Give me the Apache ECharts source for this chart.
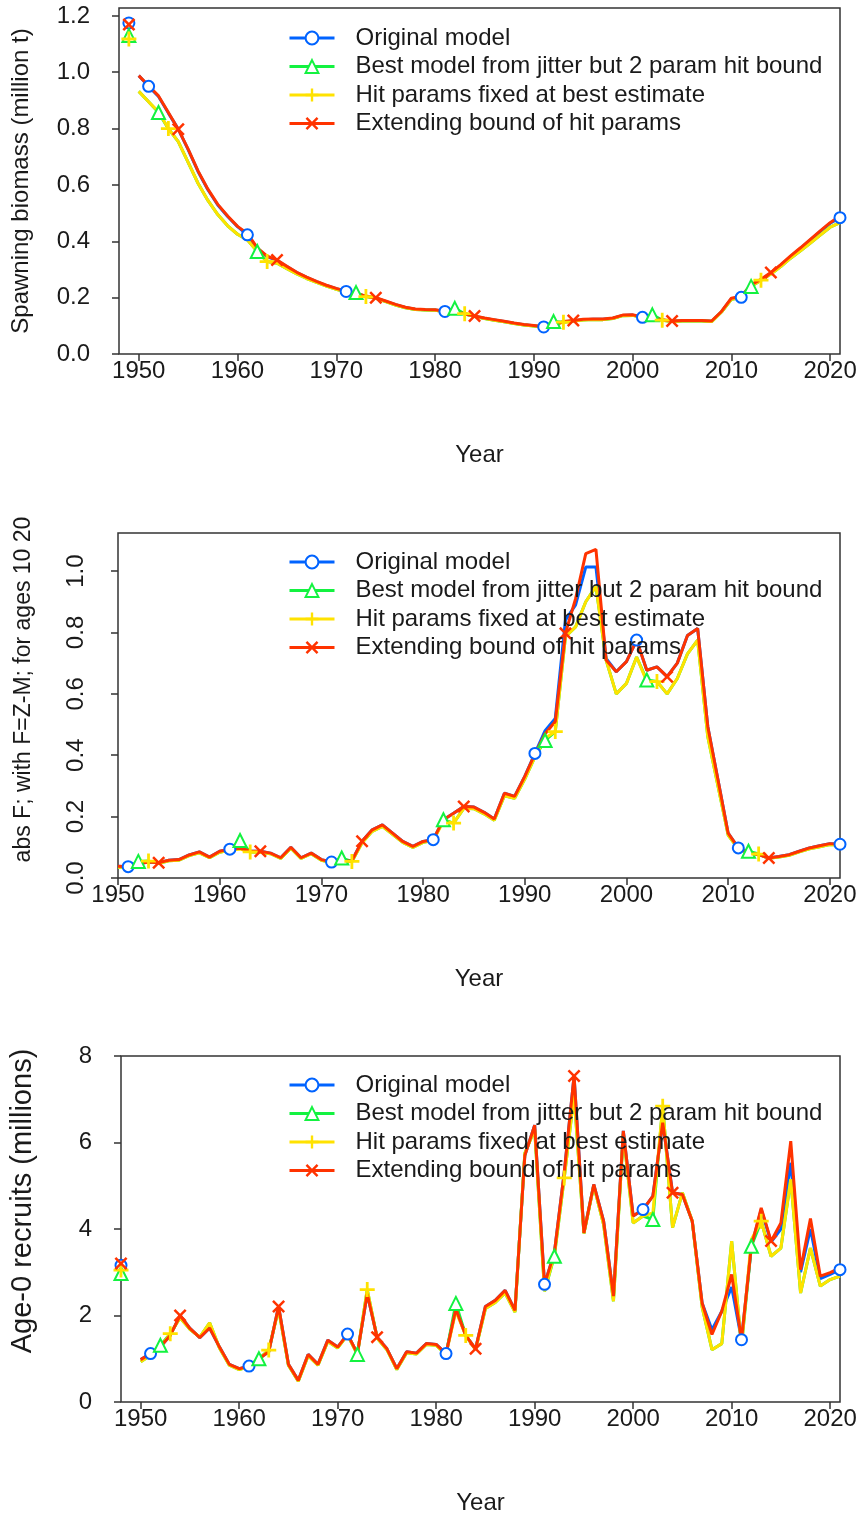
<!DOCTYPE html>
<html>
<head>
<meta charset="utf-8">
<title>Model comparison: spawning biomass, F and recruits</title>
<script src="https://cdn.jsdelivr.net/npm/echarts@6/dist/echarts.min.js"></script>
<style>
  html, body { margin: 0; padding: 0; background: #ffffff; }
  #chart { width: 861px; height: 1517px; }
</style>
</head>
<body>
<div id="chart"></div>
<script>
// ---------------- data ----------------
const modelNames = [
  'Original model',
  'Best model from jitter but 2 param hit bound',
  'Hit params fixed at best estimate',
  'Extending bound of hit params'
];
const years = [];
for (let y = 1950; y <= 2021; y++) years.push(y);

const xTickYears = [1950, 1960, 1970, 1980, 1990, 2000, 2010, 2020];

// Spawning biomass (million t), 1950-2021
const ssbVirginYear = 1949;
const ssbVirgin = [1.175, 1.13, 1.118, 1.169];
const ssbOriginal = [0.988,0.950,0.914,0.855,0.798,0.725,0.648,0.583,0.529,0.488,0.452,0.423,0.375,0.345,0.333,0.310,0.289,0.272,0.257,0.243,0.232,0.222,0.213,0.205,0.199,0.187,0.175,0.165,0.159,0.157,0.156,0.151,0.148,0.142,0.134,0.127,0.121,0.115,0.109,0.104,0.100,0.096,0.103,0.114,0.118,0.122,0.123,0.123,0.127,0.137,0.138,0.130,0.126,0.121,0.116,0.118,0.118,0.118,0.116,0.150,0.196,0.201,0.244,0.263,0.287,0.315,0.346,0.375,0.405,0.435,0.464,0.484];
const ssbJitter   = [0.932,0.895,0.857,0.800,0.754,0.680,0.606,0.545,0.495,0.455,0.425,0.405,0.364,0.328,0.322,0.303,0.284,0.268,0.254,0.241,0.230,0.220,0.218,0.204,0.198,0.186,0.174,0.164,0.158,0.156,0.155,0.150,0.162,0.143,0.133,0.126,0.120,0.114,0.108,0.103,0.099,0.096,0.115,0.113,0.117,0.121,0.122,0.122,0.126,0.136,0.137,0.129,0.139,0.120,0.115,0.117,0.117,0.117,0.115,0.149,0.194,0.200,0.240,0.262,0.284,0.310,0.340,0.366,0.394,0.422,0.450,0.466];
const ssbFixed    = [0.932,0.895,0.860,0.800,0.754,0.680,0.606,0.545,0.495,0.455,0.425,0.405,0.365,0.328,0.322,0.303,0.284,0.268,0.254,0.241,0.230,0.220,0.212,0.204,0.198,0.186,0.174,0.164,0.158,0.156,0.155,0.150,0.146,0.143,0.133,0.126,0.120,0.114,0.108,0.103,0.099,0.096,0.102,0.113,0.117,0.121,0.122,0.122,0.126,0.136,0.137,0.129,0.125,0.120,0.115,0.117,0.117,0.117,0.115,0.149,0.194,0.200,0.240,0.262,0.284,0.310,0.340,0.366,0.394,0.422,0.450,0.466];
const ssbExtended = [0.988,0.952,0.916,0.857,0.798,0.727,0.650,0.585,0.531,0.490,0.453,0.428,0.377,0.347,0.334,0.311,0.290,0.273,0.258,0.244,0.233,0.223,0.214,0.206,0.200,0.188,0.176,0.166,0.160,0.158,0.157,0.152,0.149,0.143,0.135,0.128,0.122,0.116,0.110,0.105,0.101,0.097,0.104,0.115,0.119,0.123,0.124,0.124,0.128,0.138,0.139,0.131,0.127,0.122,0.117,0.119,0.119,0.119,0.117,0.151,0.198,0.205,0.246,0.265,0.289,0.317,0.348,0.377,0.407,0.437,0.466,0.490];

// Fishing mortality (abs F, ages 10-20), 1950-2021
const fOriginal = [0.038,0.037,0.046,0.052,0.050,0.058,0.060,0.075,0.085,0.068,0.087,0.094,0.097,0.088,0.087,0.081,0.066,0.100,0.066,0.081,0.060,0.052,0.054,0.056,0.120,0.157,0.173,0.146,0.119,0.103,0.119,0.125,0.190,0.211,0.233,0.231,0.214,0.192,0.276,0.266,0.331,0.406,0.480,0.520,0.840,0.890,1.013,1.013,0.715,0.672,0.705,0.775,0.677,0.688,0.656,0.700,0.790,0.813,0.493,0.320,0.146,0.098,0.082,0.076,0.065,0.070,0.076,0.087,0.098,0.105,0.112,0.110];
const fJitter   = [0.035,0.035,0.054,0.055,0.048,0.056,0.058,0.073,0.082,0.066,0.084,0.091,0.122,0.085,0.084,0.079,0.064,0.097,0.064,0.079,0.058,0.050,0.065,0.054,0.115,0.152,0.168,0.142,0.116,0.100,0.116,0.122,0.190,0.179,0.227,0.226,0.209,0.188,0.268,0.260,0.322,0.395,0.448,0.477,0.786,0.818,0.900,0.950,0.710,0.600,0.634,0.720,0.645,0.640,0.600,0.650,0.730,0.775,0.460,0.300,0.140,0.095,0.087,0.078,0.064,0.068,0.074,0.085,0.095,0.102,0.109,0.107];
const fFixed    = [0.035,0.035,0.044,0.055,0.048,0.056,0.058,0.073,0.082,0.066,0.084,0.091,0.094,0.085,0.084,0.079,0.064,0.097,0.064,0.079,0.058,0.050,0.052,0.054,0.115,0.152,0.168,0.142,0.116,0.100,0.116,0.122,0.185,0.179,0.227,0.226,0.209,0.188,0.268,0.260,0.322,0.395,0.455,0.477,0.786,0.818,0.900,0.950,0.710,0.600,0.634,0.720,0.640,0.640,0.600,0.650,0.730,0.775,0.460,0.300,0.140,0.095,0.080,0.078,0.064,0.068,0.074,0.085,0.095,0.102,0.109,0.107];
const fExtended = [0.038,0.037,0.046,0.052,0.050,0.058,0.060,0.075,0.085,0.068,0.087,0.094,0.097,0.088,0.087,0.081,0.066,0.100,0.066,0.081,0.060,0.052,0.054,0.056,0.120,0.157,0.173,0.146,0.119,0.103,0.119,0.125,0.190,0.211,0.233,0.231,0.214,0.192,0.276,0.266,0.331,0.404,0.470,0.510,0.797,0.910,1.057,1.071,0.710,0.672,0.705,0.775,0.677,0.688,0.656,0.700,0.790,0.813,0.493,0.320,0.146,0.098,0.081,0.076,0.065,0.070,0.076,0.087,0.098,0.105,0.112,0.110];

// Age-0 recruits (millions), 1950-2021
const recVirginYear = 1948;
const recVirgin = [3.16, 2.97, 3.05, 3.20];
const recOriginal = [0.98,1.12,1.28,1.54,2.00,1.70,1.49,1.71,1.27,0.87,0.77,0.83,1.00,1.16,2.21,0.87,0.50,1.10,0.87,1.43,1.27,1.57,1.12,2.50,1.50,1.23,0.77,1.16,1.13,1.35,1.33,1.12,2.15,1.54,1.23,2.21,2.35,2.58,2.12,5.70,6.40,2.72,3.45,5.30,7.54,3.91,5.03,4.18,2.45,6.27,4.30,4.45,4.76,6.46,4.84,4.80,4.18,2.29,1.67,2.10,2.66,1.44,3.60,4.45,3.70,4.00,5.53,3.00,4.00,2.85,2.95,3.06];
const recJitter   = [0.93,1.08,1.31,1.58,1.95,1.68,1.50,1.83,1.25,0.85,0.75,0.82,1.00,1.20,2.15,0.85,0.48,1.07,0.85,1.40,1.25,1.55,1.10,2.60,1.48,1.21,0.75,1.14,1.11,1.33,1.31,1.10,2.28,1.54,1.21,2.16,2.30,2.52,2.08,5.75,6.30,2.56,3.37,5.18,7.10,3.90,5.00,4.10,2.33,6.20,4.14,4.30,4.22,6.84,4.03,4.84,4.18,2.20,1.21,1.35,3.72,1.30,3.60,4.18,3.37,3.56,5.15,2.52,3.56,2.68,2.83,2.91];
const recFixed    = [0.93,1.08,1.26,1.58,1.95,1.68,1.50,1.83,1.25,0.85,0.75,0.82,0.98,1.20,2.15,0.85,0.48,1.07,0.85,1.40,1.25,1.55,1.10,2.60,1.48,1.21,0.75,1.14,1.11,1.33,1.31,1.10,2.10,1.54,1.21,2.16,2.30,2.52,2.08,5.75,6.30,2.56,3.40,5.18,7.10,3.90,5.00,4.10,2.33,6.20,4.14,4.30,4.37,6.84,4.03,4.84,4.18,2.20,1.21,1.35,3.72,1.30,3.76,4.18,3.37,3.56,5.15,2.52,3.56,2.68,2.83,2.91];
const recExtended = [0.98,1.12,1.28,1.54,2.00,1.70,1.49,1.71,1.27,0.87,0.77,0.83,1.00,1.16,2.21,0.87,0.50,1.10,0.87,1.43,1.27,1.57,1.12,2.50,1.50,1.23,0.77,1.16,1.13,1.35,1.33,1.12,2.15,1.54,1.23,2.21,2.35,2.58,2.12,5.70,6.40,2.72,3.45,5.30,7.54,3.91,5.03,4.18,2.45,6.27,4.30,4.45,4.76,6.46,4.84,4.80,4.18,2.29,1.56,2.10,2.95,1.44,3.60,4.49,3.72,4.14,6.03,3.06,4.24,2.91,2.99,3.10];

// ---------------- styling ----------------
const colors = ['#0063FF', '#13F240', '#FFE200', '#FF3300'];
const plusPath = 'path://M-1.3,-7L1.3,-7L1.3,-1.3L7,-1.3L7,1.3L1.3,1.3L1.3,7L-1.3,7L-1.3,1.3L-7,1.3L-7,-1.3L-1.3,-1.3Z';
const d = 1.9;
const crossPath = 'path://M' + (-7 + d) + ',-7L0,' + (-d) + 'L' + (7 - d) + ',-7L7,' + (-7 + d) +
  'L' + d + ',0L7,' + (7 - d) + 'L' + (7 - d) + ',7L0,' + d + 'L' + (-7 + d) + ',7L-7,' + (7 - d) +
  'L' + (-d) + ',0L-7,' + (-7 + d) + 'Z';
const symbols = ['emptyCircle', 'emptyTriangle', plusPath, crossPath];
const symbolSizes = [11, 13, 15, 13];
// each model marks every tenth year, staggered by one year per model
const markerStart = [1951, 1952, 1953, 1954];

const FONT = '"Liberation Sans", Arial, sans-serif';
const textColor = '#1a1a1a';
const axisColor = '#333333';

const grids = [
  { left: 119, top: 8, width: 721, height: 346 },
  { left: 118, top: 533, width: 722, height: 345 },
  { left: 119, top: 1056, width: 721, height: 346 }
];

function buildSeriesData(m, values, virginYear, virginValue) {
  const out = [];
  if (virginYear !== null) {
    out.push({ value: [virginYear, virginValue] });
    out.push({ value: [virginYear + 0.5, '-'], symbol: 'none' });
  }
  years.forEach((yr, i) => {
    const marked = (yr - markerStart[m]) % 10 === 0 || (m === 0 && yr === 2021);
    const item = { value: [yr, values[i]] };
    if (!marked) item.symbol = 'none';
    out.push(item);
  });
  return out;
}

const panels = [
  { sets: [ssbOriginal, ssbJitter, ssbFixed, ssbExtended], virginYear: ssbVirginYear, virgin: ssbVirgin,
    xMin: 1948, xMax: 2021, yMax: 1.228, yTicks: [0, 0.2, 0.4, 0.6, 0.8, 1.0, 1.2], yDigits: 1, yRotate: 0,
    yName: 'Spawning biomass (million t)', yNameSize: 24, yNameGap: 86, yNameShift: 0, labelMargin: 29 },
  { sets: [fOriginal, fJitter, fFixed, fExtended], virginYear: null, virgin: null,
    xMin: 1950, xMax: 2021, yMax: 1.124, yTicks: [0, 0.2, 0.4, 0.6, 0.8, 1.0], yDigits: 1, yRotate: 90,
    yName: 'abs F; with F=Z-M; for ages 10 20', yNameSize: 23, yNameGap: 83, yNameShift: 32, labelMargin: 30 },
  { sets: [recOriginal, recJitter, recFixed, recExtended], virginYear: recVirginYear, virgin: recVirgin,
    xMin: 1948, xMax: 2021, yMax: 8, yTicks: [0, 2, 4, 6, 8], yDigits: 0, yRotate: 0,
    yName: 'Age-0 recruits (millions)', yNameSize: 29, yNameGap: 84, yNameShift: 56, labelMargin: 29 }
];

const xAxes = [], yAxes = [], series = [], legends = [];
const legendTops = [26, 550, 1073];

panels.forEach((p, k) => {
  xAxes.push({
    type: 'value', gridIndex: k, min: p.xMin, max: p.xMax,
    name: 'Year', nameLocation: 'middle', nameGap: 89,
    nameTextStyle: { fontFamily: FONT, fontSize: 24, color: textColor },
    axisLine: { show: false },
    axisTick: { show: true, length: 7, customValues: xTickYears, lineStyle: { color: axisColor, width: 1.5 } },
    axisLabel: { customValues: xTickYears, margin: 5, fontFamily: FONT, fontSize: 24, color: textColor,
      formatter: v => String(Math.round(v)) },
    splitLine: { show: false }
  });
  yAxes.push({
    type: 'value', gridIndex: k, min: 0, max: p.yMax,
    name: p.yName, nameLocation: 'middle', nameGap: p.yNameGap, nameRotate: 90,
    nameTextStyle: { fontFamily: FONT, fontSize: p.yNameSize, color: textColor,
      padding: [0, 0, 0, p.yNameShift] },
    axisLine: { show: false },
    axisTick: { show: true, length: 7, customValues: p.yTicks, lineStyle: { color: axisColor, width: 1.5 } },
    axisLabel: { customValues: p.yTicks, margin: p.labelMargin, rotate: p.yRotate,
      fontFamily: FONT, fontSize: 24, color: textColor,
      formatter: v => Number(v).toFixed(p.yDigits) },
    splitLine: { show: false }
  });
  p.sets.forEach((vals, m) => {
    series.push({
      type: 'line', name: modelNames[m], xAxisIndex: k, yAxisIndex: k,
      data: buildSeriesData(m, vals, p.virginYear, p.virgin ? p.virgin[m] : null),
      symbol: symbols[m], symbolSize: symbolSizes[m], showAllSymbol: true,
      connectNulls: false, clip: true,
      lineStyle: { color: colors[m], width: 3 },
      itemStyle: { color: colors[m], borderWidth: 2.5 },
      emphasis: { disabled: true }
    });
  });
  legends.push({
    data: modelNames, orient: 'vertical', left: 288, top: legendTops[k], padding: 0,
    itemWidth: 45, itemHeight: 16, itemGap: 4.5, selectedMode: false,
    lineStyle: { width: 3 },
    textStyle: { fontFamily: FONT, fontSize: 24, color: textColor, padding: [0, 0, 0, 16] }
  });
});

const chart = echarts.init(document.getElementById('chart'), null, { renderer: 'canvas' });
chart.setOption({
  animation: false,
  backgroundColor: '#ffffff',
  grid: grids.map(g => Object.assign({ show: true, borderColor: axisColor, borderWidth: 1.5,
    backgroundColor: 'transparent' }, g)),
  xAxis: xAxes,
  yAxis: yAxes,
  legend: legends,
  series: series
});
</script>
</body>
</html>
